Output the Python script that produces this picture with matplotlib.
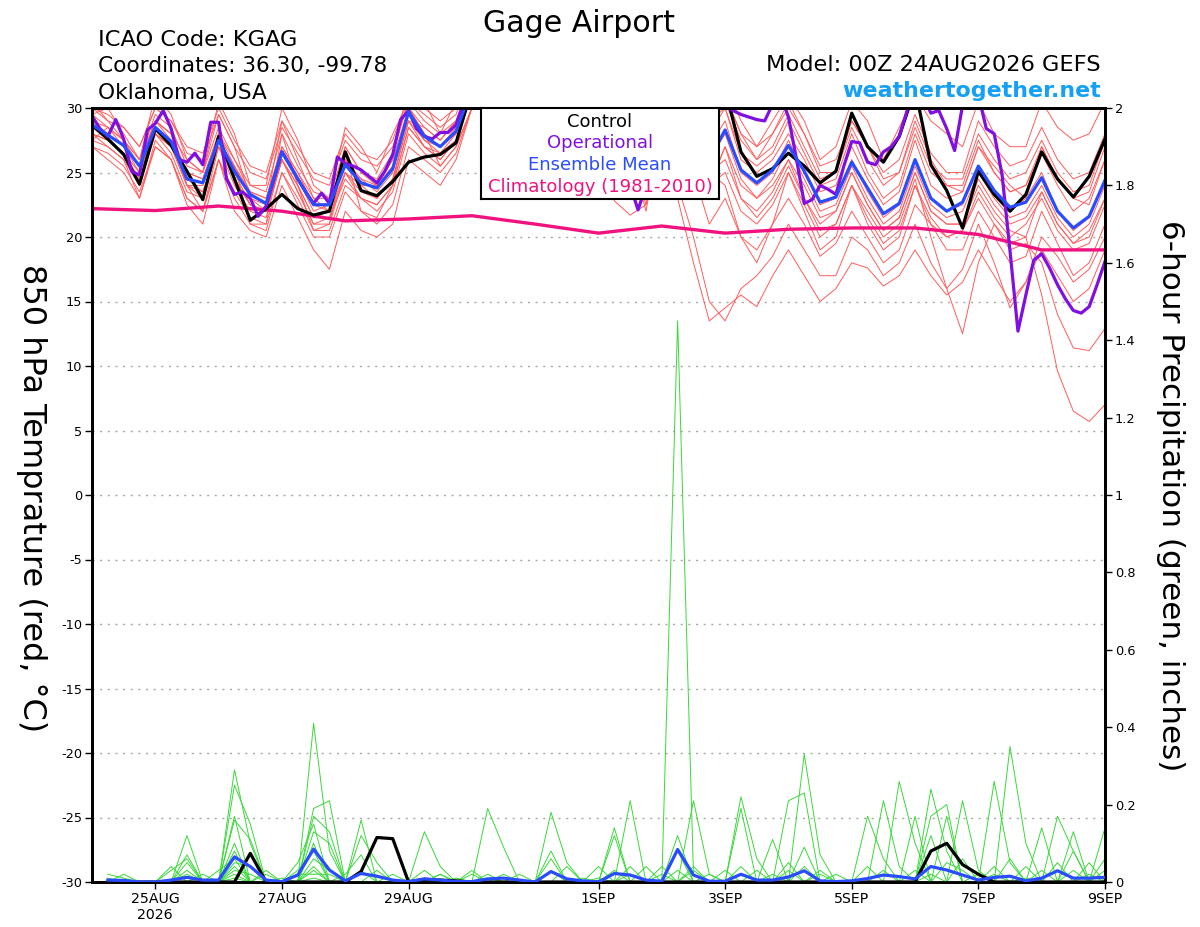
import numpy as np
import matplotlib
matplotlib.use('Agg')
import matplotlib.pyplot as plt

plt.rcParams['font.family'] = ['DejaVu Sans']

# ---------------- data ----------------
tick_hours = [24, 72, 120, 192, 240, 288, 336, 384]
tick_labels = ['25AUG\n2026', '27AUG', '29AUG', '1SEP', '3SEP', '5SEP', '7SEP', '9SEP']

temp_ticks = [-30, -25, -20, -15, -10, -5, 0, 5, 10, 15, 20, 25, 30]
precip_ticks = [0, 0.2, 0.4, 0.6, 0.8, 1, 1.2, 1.4, 1.6, 1.8, 2]

# climatology, daily (hours 0..384)
clim_hours = [0, 24, 48, 72, 96, 120, 144, 168, 192, 216, 240, 264, 288, 312, 336, 360, 384]
clim_temp = [22.2, 22.05, 22.4, 22.0, 21.25, 21.4, 21.65, 21.0, 20.3, 20.85, 20.3, 20.6, 20.7, 20.7, 20.2, 19.0, 19.0]

# control 850 hPa temperature, 6-hourly from hour 0
control_temp = [28.7, 27.6, 26.4, 24.1, 28.4, 27.1, 25.1, 22.9, 27.8, 24.5, 21.3, 22.2,
                23.3, 22.2, 21.7, 22.0, 26.6, 23.6, 23.2, 24.3, 25.8, 26.2, 26.4, 27.3,
                31.5, 33.0, 30.5, 28.5, 33.0, 34.0, 31.0, 28.0, 33.0, 34.0, 31.0, 29.0,
                33.0, 34.0, 31.0, 29.5, 31.5, 26.6, 24.7, 25.3, 26.5, 25.5, 24.2, 25.1,
                29.6, 27.0, 25.8, 27.8, 31.5, 25.6, 23.6, 20.7, 25.1, 23.3, 22.0, 23.3,
                26.6, 24.5, 23.1, 24.7, 27.6]

# ensemble mean temperature, 6-hourly
mean_temp = [28.7, 27.9, 27.1, 25.5, 28.5, 27.4, 24.5, 24.2, 27.5, 25.1, 23.3, 22.6,
             26.6, 24.5, 22.5, 22.5, 25.6, 24.2, 23.8, 25.3, 29.7, 27.8, 27.0, 28.2,
             31.5, 32.0, 30.0, 28.5, 32.5, 33.0, 30.5, 28.5, 32.5, 33.0, 30.5, 28.5,
             32.5, 33.0, 30.5, 26.0, 28.3, 25.2, 24.2, 25.2, 27.1, 25.1, 22.7, 23.1,
             25.8, 23.8, 21.8, 22.6, 26.0, 23.0, 22.0, 22.7, 25.5, 23.6, 22.3, 22.7,
             24.6, 22.0, 20.7, 21.6, 24.4]

# operational temperature, 3-hourly from hour 0
oper_temp = [29.4, 28.4, 27.8, 29.1, 27.6, 25.1, 24.8, 28.3, 28.8, 29.8, 28.4, 26.0,
             25.8, 26.5, 25.6, 28.9, 28.9, 24.5, 23.3, 23.5, 23.0, 21.6, 22.4, 24.5,
             26.6, 25.6, 24.5, 23.5, 22.6, 23.4, 22.6, 26.2, 25.7, 25.5, 25.2, 24.7,
             24.2, 25.1, 26.4, 29.1, 29.8, 28.4, 27.8, 27.6, 28.1, 28.1, 28.7, 30.5,
             32.5, 33.0, 31.5, 30.0, 28.5, 27.5, 28.0, 30.0, 33.0, 34.0, 32.0, 30.0,
             28.5, 27.5, 28.0, 30.5, 33.0, 34.0, 32.0, 28.0, 24.0, 22.1, 24.0, 28.0,
             32.0, 34.0, 33.0, 31.0, 29.0, 28.0, 29.0, 30.5, 30.2,
             29.8, 29.5, 29.3, 29.1, 29.0, 30.3, 31.0, 29.3, 26.1, 22.6, 22.9, 24.0,
             23.7, 23.3, 25.5, 27.4, 27.3, 25.8, 25.6, 26.6, 27.0, 27.8, 29.8, 31.0,
             31.0, 29.6, 29.8, 28.4, 26.7, 30.2, 32.0, 31.0, 28.4, 28.0, 24.8, 18.9,
             12.7, 15.5, 18.2, 18.7, 17.6, 16.3, 15.2, 14.3, 14.1, 14.6, 16.3, 18.1]

# ensemble members (850 hPa temperature), 6-hourly
member_01 = [30, 29, 28.5, 27, 30, 29, 27, 26.5, 30, 27.5, 25.5, 25, 29, 27, 25, 24.5, 28, 26.5, 26, 27.5, 31, 30, 29, 30,
             33, 34, 32, 30, 34, 35, 32, 30, 34, 35, 32, 30, 34, 35, 32, 30,
             31, 28, 27, 28, 30, 28, 25.5, 26, 29, 27, 25, 26, 29.5,
             26.5, 25, 25, 29, 27, 25.5, 26, 28.5, 26, 24.5, 25, 28]
member_02 = [29.5, 30, 28, 26, 31, 29.5, 26, 25, 30.5, 28, 24, 24, 30, 27.5, 24, 23, 28.5, 27, 25, 28, 30.5, 30.5, 28, 30.5,
             32, 33, 31, 29, 33, 34, 31, 29, 33, 34, 31, 29.5, 33, 34, 31, 30,
             32, 29, 27, 29, 31, 29, 26, 27, 30.5, 29, 26, 28.5, 31,
             29, 28, 27, 30.5, 28, 27, 27, 30.5, 28.5, 27.5, 28, 30.5]
member_03 = [29, 28.5, 27.5, 26, 29, 28, 25, 24.5, 28, 26, 23.5, 23, 27, 25, 22.5, 22, 26, 24, 24, 26, 30, 28.5, 27.5, 29,
             32, 32, 30, 28, 32, 33, 30, 27.5, 32, 33, 30, 27, 32, 33, 30, 29,
             30, 26, 25, 26, 28, 26, 23.5, 24, 27, 24.5, 22.5, 23.5, 27.5,
             24, 23, 23.5, 27, 25, 23.5, 24, 26.5, 24, 22, 23, 26]
member_04 = [28.5, 28, 27, 25, 28.5, 27.5, 24, 24, 27.5, 25.5, 23, 22, 26.5, 24.5, 22, 22.5, 25.5, 24.5, 23.5, 25, 29.5, 27.5, 27, 28,
             31, 32, 30, 28, 32, 33, 30, 28, 32, 33, 30, 28, 32, 33, 30, 27,
             29, 25, 24, 25, 27.5, 25, 22.5, 23, 26, 23.5, 21.5, 22.5, 26,
             23, 22, 22.5, 25.5, 23.5, 22, 23, 25, 22, 20.5, 21.5, 24.5]
member_05 = [28, 27.5, 26.5, 24.5, 28, 27, 24.5, 23.5, 27, 25, 22.5, 22, 26, 24, 21.5, 21.5, 25, 24, 23, 24.5, 29, 27.5, 26.5, 28,
             31.5, 31, 29.5, 28, 32, 32.5, 29.5, 27, 31.5, 32.5, 29.5, 26, 31, 32, 29, 26,
             28, 24.5, 23, 24.5, 27, 24.5, 22, 22.5, 25.5, 23, 21, 22, 25.5,
             22.5, 21.5, 22, 25, 23, 21.5, 22, 24, 21.5, 20, 21, 24]
member_06 = [27, 26.5, 25.5, 23.5, 27, 26, 23, 22, 26, 23.5, 21.5, 21, 25, 23, 20.5, 20.5, 24, 23, 22, 23.5, 28, 26.5, 25.5, 27,
             30, 31, 29, 27, 31, 32, 29, 26, 31, 32, 28, 23.5, 30, 31, 28, 25,
             26, 23, 22, 23.5, 26, 23, 21, 22, 25, 22.5, 20.5, 21.5, 25,
             22, 21, 21, 24.5, 22.5, 21, 21.5, 23.5, 21, 19.5, 20.5, 23]
member_07 = [27.5, 27, 26, 23, 27.5, 26, 22.5, 21, 26, 22, 20.5, 20, 24, 21.5, 19, 17.5, 22, 20.5, 20, 21, 26, 25, 24, 26,
             30, 31, 29, 27, 31, 32, 28.5, 26, 29, 30, 27, 22, 29, 30, 27, 24,
             25, 22, 21, 22.5, 25, 22.5, 20, 21, 24, 21.5, 19.5, 20.5, 24,
             21.5, 20, 20.5, 23.5, 21.5, 20, 21, 23, 20.5, 19, 19.5, 22.5]
member_08 = [28, 27, 26, 24, 28, 26.5, 23.5, 23, 27, 24, 22, 21.5, 26, 23.5, 21, 21, 25, 23, 22.5, 24, 28.5, 27, 26, 27.5,
             31, 32, 30, 28, 32, 33, 30, 28, 32, 32, 29, 27, 31, 30, 27, 24,
             27, 24, 23, 24, 26, 24, 21.5, 22, 25, 22.5, 20.5, 21.5, 25,
             22, 21, 21, 24, 22, 20.5, 20, 15.5, 9.6, 6.5, 5.7, 7.0]
member_09 = [28.5, 27.5, 26.5, 25, 28, 27, 24, 23.5, 27, 24.5, 22.5, 22, 26, 24, 21.5, 22, 25, 23.5, 23, 24.5, 29, 27, 26.5, 27.5,
             31, 32, 30, 28, 31, 32, 29, 27, 31, 32, 29, 26, 30, 29, 25, 21,
             23, 20, 19, 21, 23, 21, 18.5, 19.5, 22, 20, 18, 19, 22.5,
             21, 20, 20.5, 23, 21, 19, 19.5, 18, 14, 11.4, 11.2, 12.9]
member_10 = [27, 26, 25, 23, 27, 26, 23, 22, 26, 23, 21, 20.5, 25, 22.5, 20, 20, 23.5, 22, 21, 22.5, 27, 26, 25, 26.5,
             30, 30, 28, 26, 30, 31, 28, 25, 30, 30, 27, 22.5, 29, 23, 18, 13.5,
             14.5, 15.5, 14.6, 17, 19, 17, 15, 16, 18, 17.6, 16.2, 17, 19,
             17, 15.5, 16.5, 19, 17, 15, 16.5, 19, 17, 15, 16, 19]
member_11 = [28, 27.5, 26.5, 24, 28, 27, 24, 23, 27.5, 24.5, 22.5, 22, 26, 23.5, 21, 21.5, 24.5, 23, 22.5, 24, 28.5, 27, 26, 27.5,
             31, 31, 29, 27, 31, 32, 29, 26, 31, 31, 28, 23, 30, 24, 20, 15,
             13.5, 16, 17, 18.5, 21, 19, 17, 17, 20, 19, 17, 18, 21,
             18, 16, 17.5, 21, 18, 14.5, 16.5, 20, 18.5, 16.5, 17.5, 20]
member_12 = [29, 28, 27, 25.5, 29, 27.5, 25, 24.5, 28, 25.5, 23.5, 23, 27, 25, 23, 23, 26, 24.5, 24, 25.5, 30, 28, 27, 28.5,
             32, 32, 30, 28, 32, 33, 30, 27, 28, 22.8, 21.7, 22.5, 28, 30, 27, 24,
             27, 23, 21.5, 23, 25.5, 23, 20.5, 21, 24, 22, 20, 21, 24.5,
             20, 16, 12.5, 18, 21, 19.5, 20, 23.5, 21, 19.5, 20, 23]
member_13 = [30, 29.5, 28.5, 27, 30, 29, 26.5, 26, 29.5, 27, 25, 24.5, 28.5, 26.5, 24.5, 24, 27.5, 26, 25.5, 27, 30.5, 29.5, 28.5, 29.5,
             33, 33, 31, 29, 33, 34, 31, 29, 33, 34, 31, 29, 33, 34, 31, 29,
             30.5, 27.5, 26, 27, 29.5, 27, 24.5, 25, 28.5, 26, 24, 25, 28.5,
             25.5, 24.5, 24.5, 28, 26, 24.5, 25, 27.5, 25, 23.5, 24, 27.5]
member_14 = [29.5, 28.5, 27.5, 26, 29.5, 28.5, 25.5, 25, 28.5, 26, 24, 23.5, 28, 25.5, 23.5, 23, 27, 25, 24.5, 26.5, 30.5, 29, 28, 29,
             32.5, 33, 31, 29, 33, 33.5, 31, 28.5, 33, 33.5, 31, 28, 33, 33, 30, 28,
             30, 26.5, 25.5, 26.5, 29, 26.5, 24, 24.5, 28, 25, 23, 24, 28,
             25, 24, 24, 27.5, 25, 23.5, 24, 27, 24.5, 23, 23.5, 27]
member_15 = [27.5, 28.5, 27, 24, 29, 28, 24, 22, 27, 25.5, 21, 21, 28, 24, 20.5, 21, 26.5, 22, 21.5, 24, 30, 28, 25.5, 27,
             30, 32, 31, 29, 33, 32, 28, 26, 32, 33, 31, 26, 31, 33, 29, 25,
             24, 20, 18, 21, 25, 22, 19, 20, 24, 21, 19, 20, 24,
             21, 19, 19, 22, 20, 18, 18.5, 22, 19.5, 17, 18, 21]
member_16 = [30.5, 29, 27.5, 25.5, 29, 28, 26, 25, 29.5, 27, 23, 22.5, 29, 26, 23, 22, 27, 25, 24, 26, 29, 28.5, 27.5, 29,
             32, 33, 31, 29, 33, 34, 31, 29, 33, 34, 31, 29, 33, 34, 31, 30,
             31, 28, 26, 28, 30.5, 28, 25, 25, 29, 27, 24.5, 25, 29,
             26, 24, 23.5, 27, 25.5, 24, 23, 27, 24.5, 23, 22.5, 26]
temp_members = [member_01, member_02, member_03, member_04, member_05, member_06, member_07, member_08,
                member_09, member_10, member_11, member_12, member_13, member_14, member_15, member_16]

# 6-hour precipitation (inches), control and ensemble mean, hours 6..384
control_precip = [0, 0, 0, 0, 0, 0, 0, 0, 0, 0.074, 0, 0, 0, 0, 0, 0,
                  0.027, 0.115, 0.112, 0, 0.007, 0.005, 0.003, 0, 0, 0, 0, 0, 0, 0, 0, 0,
                  0, 0, 0, 0, 0, 0, 0, 0, 0, 0, 0, 0, 0, 0, 0, 0,
                  0, 0, 0, 0, 0.08, 0.10, 0.045, 0.02, 0, 0, 0, 0, 0, 0, 0, 0]
mean_precip = [0.005, 0.004, 0, 0, 0.005, 0.012, 0.005, 0.005, 0.065, 0.04, 0.005, 0.001,
               0.018, 0.085, 0.031, 0.003, 0.022, 0.015, 0.005, 0.001, 0.008, 0.005, 0.001, 0.001,
               0.008, 0.01, 0.005, 0, 0.027, 0.008, 0.003, 0, 0.022, 0.018, 0.005, 0.002,
               0.084, 0.018, 0.002, 0.002, 0.02, 0.005, 0.005, 0.013, 0.029, 0.003, 0.001, 0.003,
               0.009, 0.018, 0.014, 0.008, 0.04, 0.031, 0.018, 0.005, 0.012, 0.015, 0.003, 0.01,
               0.029, 0.01, 0.01, 0.012]

# ensemble member precipitation: {forecast hour: inches}, other hours are 0
precip_01 = {54: .29, 60: .10, 84: .41, 90: .08, 150: .19, 156: .09, 222: 1.45, 228: .02, 270: .33, 276: .07, 348: .35, 354: .10}
precip_02 = {36: .12, 54: .25, 60: .15, 84: .19, 90: .21, 102: .16, 174: .18, 180: .05, 204: .21, 246: .22, 252: .06,
             306: .26, 312: .10, 342: .26, 348: .05}
precip_03 = {12: .02, 30: .04, 54: .17, 84: .17, 90: .13, 126: .13, 132: .04, 198: .14, 228: .21, 234: .02, 264: .21,
             270: .23, 318: .24, 324: .08, 366: .17, 372: .08}
precip_04 = {36: .07, 54: .16, 60: .11, 78: .05, 84: .15, 102: .12, 108: .05, 150: .02, 174: .08, 198: .12, 222: .12,
             246: .19, 294: .17, 300: .06, 330: .21, 336: .03, 384: .14}
precip_05 = {30: .03, 36: .06, 54: .10, 66: .03, 84: .13, 90: .10, 144: .03, 156: .02, 174: .06, 192: .04, 222: .08,
             258: .11, 300: .21, 306: .04, 318: .17, 324: .20, 360: .14, 372: .13}
precip_06 = {6: .02, 12: .01, 36: .05, 54: .08, 84: .10, 96: .02, 102: .07, 132: .02, 180: .04, 204: .04, 216: .04,
             240: .03, 270: .09, 282: .02, 312: .17, 324: .17, 354: .04, 372: .08, 384: .03}
precip_07 = {48: .03, 54: .06, 78: .03, 84: .08, 108: .03, 126: .03, 210: .04, 228: .04, 264: .05, 276: .03, 318: .12,
             342: .04, 378: .05}
precip_08 = {42: .02, 54: .05, 60: .04, 84: .06, 90: .03, 114: .02, 162: .02, 186: .01, 216: .02, 252: .03, 294: .04,
             330: .06, 360: .03, 384: .06}
precip_09 = {36: .02, 54: .04, 66: .02, 84: .04, 144: .02, 198: .03, 234: .02, 264: .03, 300: .03, 336: .02, 348: .06, 366: .05}
precip_10 = {54: .03, 60: .02, 84: .03, 102: .03, 138: .01, 204: .02, 246: .04, 276: .02, 324: .05, 330: .03, 372: .03}
precip_11 = {36: .03, 54: .02, 78: .02, 84: .02, 90: .02, 150: .01, 174: .03, 222: .03, 258: .02, 312: .03, 342: .02, 378: .02}
precip_12 = {6: .01, 54: .01, 72: .01, 84: .01, 132: .02, 192: .01, 228: .03, 270: .04, 318: .02, 354: .01}
precip_members = [precip_01, precip_02, precip_03, precip_04, precip_05, precip_06,
                  precip_07, precip_08, precip_09, precip_10, precip_11, precip_12]

# ---------------- figure ----------------
W, H = 1200, 927
fig = plt.figure(figsize=(W / 100, H / 100), dpi=100)
L, R, B, T = 92 / W, 1105 / W, 1 - 882 / H, 1 - 108 / H
ax = fig.add_axes([L, B, R - L, T - B])
ax2 = ax.twinx()

RED = '#ff5c5c'
GREEN = '#3ad83a'
PURPLE = '#8010e0'
BLUE = '#2a4cff'
PINK = '#f0127e'

for m in temp_members:
    ax.plot(6 * np.arange(len(m)), m, color=RED, lw=0.7, zorder=1)
ax.plot(clim_hours, clim_temp, color=PINK, lw=2.4, zorder=3, solid_joinstyle='round')
ax.plot(6 * np.arange(len(control_temp)), control_temp, color='black', lw=2.3, zorder=4)
ax.plot(3 * np.arange(len(oper_temp)), oper_temp, color=PURPLE, lw=2.3, zorder=5)
ax.plot(6 * np.arange(len(mean_temp)), mean_temp, color=BLUE, lw=2.3, zorder=6)

precip_hours = 6 * np.arange(1, 65)
for d in precip_members:
    vals = [d.get(h, 0.0) for h in precip_hours]
    ax2.plot(precip_hours, vals, color=GREEN, lw=0.7, zorder=1)
ax2.plot(6 * np.arange(1, len(control_precip) + 1), control_precip, color='black', lw=2.3, zorder=3)
ax2.plot(6 * np.arange(1, len(mean_precip) + 1), mean_precip, color=BLUE, lw=2.3, zorder=4)

ax.set_xlim(0, 384)
ax.set_ylim(-30, 30)
ax2.set_ylim(0, 2)

for yv in temp_ticks[1:-1]:
    ax.axhline(yv, color='#a8a8a8', lw=1.0, ls=(0, (1.5, 4)), zorder=0)

ax.set_yticks(temp_ticks)
ax.set_yticklabels([str(t) for t in temp_ticks])
ax2.set_yticks(precip_ticks)
ax2.set_yticklabels(['%g' % p for p in precip_ticks])
ax.set_xticks(tick_hours)
ax.set_xticklabels(tick_labels)

for a in (ax, ax2):
    for s in a.spines.values():
        s.set_linewidth(2)
ax.tick_params(axis='y', labelsize=9.3, length=5, width=1, direction='out', pad=2)
ax2.tick_params(axis='y', labelsize=9.3, length=5, width=1, direction='out', pad=2)
ax.tick_params(axis='x', labelsize=10.2, length=5, width=1, direction='out', pad=2)
for lbl in ax.get_xticklabels():
    lbl.set_linespacing(1.2)

# axis labels
fig.text(31 / W, 1 - 498 / H, '850 hPa Temprature (red, \u00b0C)', rotation=270,
         ha='center', va='center', fontsize=23)
fig.text(1171 / W, 1 - 496 / H, '6-hour Precipitation (green, inches)', rotation=270,
         ha='center', va='center', fontsize=22.4)

# header
fig.text(579 / W, 1 - 31.5 / H, 'Gage Airport', ha='center', va='baseline', fontsize=21.6)
fig.text(98 / W, 1 - 46 / H, 'ICAO Code: KGAG', ha='left', va='baseline', fontsize=16.2)
fig.text(98 / W, 1 - 72.5 / H, 'Coordinates: 36.30, -99.78', ha='left', va='baseline', fontsize=15.6)
fig.text(98 / W, 1 - 99 / H, 'Oklahoma, USA', ha='left', va='baseline', fontsize=15.6)
fig.text(1101 / W, 1 - 71 / H, 'Model: 00Z 24AUG2026 GEFS', ha='right', va='baseline', fontsize=16.2)
fig.text(1101 / W, 1 - 97 / H, 'weathertogether.net', ha='right', va='baseline', fontsize=15.9,
         fontweight='bold', color='#14a0f5')

# legend box
lg = fig.add_axes([481 / W, 1 - 199 / H, 238 / W, 91 / H])
lg.set_xticks([])
lg.set_yticks([])
lg.set_facecolor('white')
for s in lg.spines.values():
    s.set_linewidth(1.5)
legend_items = [('Control', 'black'), ('Operational', PURPLE),
                ('Ensemble Mean', BLUE), ('Climatology (1981-2010)', PINK)]
legend_baselines = [126.7, 147.8, 170.0, 192.5]
for (txt, col), yb in zip(legend_items, legend_baselines):
    fig.text(600 / W, 1 - yb / H, txt, color=col, ha='center', va='baseline', fontsize=13)

fig.savefig('out.png', dpi=100)
